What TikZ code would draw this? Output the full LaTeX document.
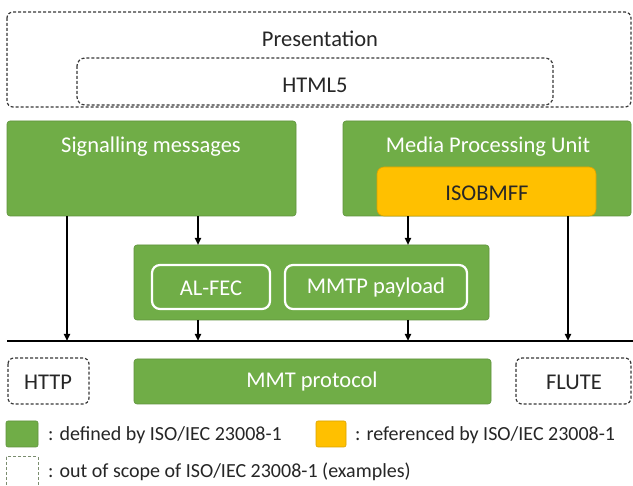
\documentclass[tikz,border=0pt]{standalone}
\usepackage{fontspec}
\setmainfont{Carlito}
\usetikzlibrary{arrows.meta}
\definecolor{mgreen}{HTML}{70AD47}
\definecolor{morange}{HTML}{FFC000}
\definecolor{dgray}{HTML}{383838}
\begin{document}
\begin{tikzpicture}[x=1pt,y=-1pt,
  gbox/.style={fill=mgreen,draw=mgreen!85!black,line width=0.6pt,rounded corners=3pt},
  obox/.style={fill=morange,draw=morange!85!black,line width=0.6pt,rounded corners=7pt},
  dbox/.style={draw=dgray,line width=1.2pt,dash pattern=on 3pt off 2pt,rounded corners=6pt},
  wbox/.style={draw=white,line width=2.2pt,rounded corners=8pt},
  lbl/.style={font=\fontsize{22.5}{26}\selectfont,text=black!85},
  wlbl/.style={font=\fontsize{22.5}{26}\selectfont,text=white},
  leg/.style={font=\fontsize{20}{23}\selectfont,text=black!85,anchor=west,inner sep=0pt},
  arr/.style={line width=1.8pt,-{Triangle[length=7pt,width=6pt]}}]
\useasboundingbox (0,0) rectangle (633,486);
\fill[white] (0,0) rectangle (633,486);
% presentation
\draw[dbox] (7,12) rectangle (631,107);
\node[lbl] (pres) at (320,39) {Presentation};
\draw[dbox,rounded corners=8pt] (77,58) rectangle (553,105);
\node[lbl] (html) at (315,85) {HTML5};
% signalling
\draw[gbox] (7,121) rectangle (296,216);
\node[wlbl] (sig) at (151,147) {Signalling messages};
\coordinate (sigb1) at (67,216);
\coordinate (sigb2) at (198,216);
% MPU
\draw[gbox] (343,121) rectangle (631,216);
\node[wlbl] (mpu) at (488,147) {Media Processing Unit};
\draw[obox] (377,167) rectangle (596,216);
\node[lbl] (iso) at (487,193) {ISOBMFF};
\coordinate (mpub1) at (408,216);
\coordinate (mpub2) at (568,216);
% middle
\draw[gbox] (134,245) rectangle (489,320);
\coordinate (midt1) at (198,245);
\coordinate (midt2) at (408,245);
\coordinate (midb1) at (198,320);
\coordinate (midb2) at (408,320);
\draw[wbox] (152,265) rectangle (270,309);
\node[wlbl] (alfec) at (211,288) {AL-FEC};
\draw[wbox] (285,265) rectangle (467,309);
\node[wlbl] (mmtp) at (376,288) {MMTP payload};
% main line
\coordinate (l0) at (7,341);
\coordinate (l1) at (633,341);
\draw[line width=2.6pt] (l0) -- (l1);
\coordinate (m1) at (67,341);
\coordinate (m2) at (198,341);
\coordinate (m3) at (408,341);
\coordinate (m4) at (568,341);
\draw[arr] (sigb1) -- (m1);
\draw[arr] (sigb2) -- (midt1);
\draw[arr] (mpub1) -- (midt2);
\draw[arr] (mpub2) -- (m4);
\draw[arr] (midb1) -- (m2);
\draw[arr] (midb2) -- (m3);
% bottom
\draw[dbox] (8,358) rectangle (89,404);
\node[lbl] (http) at (48,382) {HTTP};
\draw[gbox] (134,359) rectangle (491,404);
\node[wlbl] (mmt) at (312,382) {MMT protocol};
\draw[dbox] (516,358) rectangle (631,404);
\node[lbl] (flute) at (574,382) {FLUTE};
% legend
\draw[gbox,rounded corners=2pt] (6,421) rectangle (38,447);
\node[leg] (l1t) at (48,435) {: defined by ISO/IEC 23008-1};
\draw[obox,rounded corners=2pt] (316,421) rectangle (346,447);
\node[leg] (l2t) at (355,435) {: referenced by ISO/IEC 23008-1};
\draw[draw=gray!70!mgreen,line width=1pt,dash pattern=on 3pt off 2pt] (6,457) rectangle (38,490);
\node[leg] (l3t) at (48,472) {: out of scope of ISO/IEC 23008-1 (examples)};
\end{tikzpicture}
\end{document}
